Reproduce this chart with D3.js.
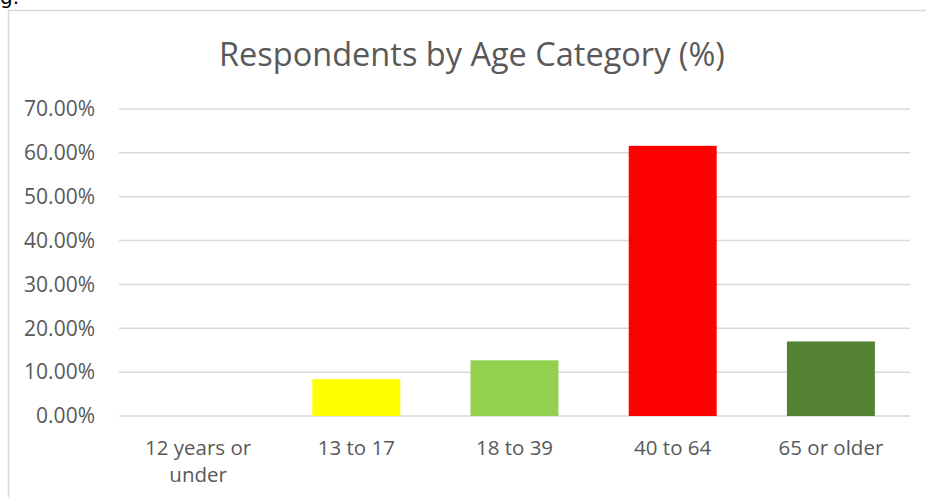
<!DOCTYPE html>
<meta charset="utf-8">
<style>
body { margin: 0; background: #fff; }
text { font-family: "Open Sans", sans-serif; fill: #595959; }
.grid line { stroke: #d9d9d9; stroke-width: 1.5px; }
</style>
<body>
<script src="https://d3js.org/d3.v7.min.js"></script>
<script>

// data
var categories = ["12 years or|under", "13 to 17", "18 to 39", "40 to 64", "65 or older"];
var values = [0, 0.084, 0.127, 0.616, 0.170];
var colors = ["#a5a5a5", "#ffff00", "#92d050", "#ff0000", "#548235"];
var yTicks = [0, 0.1, 0.2, 0.3, 0.4, 0.5, 0.6, 0.7];

var W = 926, H = 497;
var margin = {top: 109, right: 16, bottom: 81, left: 119},
    width = W - margin.left - margin.right,
    height = H - margin.top - margin.bottom;

var svg = d3.select("body").append("svg")
    .attr("width", W)
    .attr("height", H);

// chart frame (cut off at right/bottom)
svg.append("rect")
    .attr("x", 8.5).attr("y", 10.5)
    .attr("width", W + 20).attr("height", H + 20)
    .attr("fill", "none")
    .attr("stroke", "#d9d9d9")
    .attr("stroke-width", 1.5);

// clipped text above the frame
svg.append("text")
    .attr("x", 0).attr("y", 4)
    .style("font-size", "20px")
    .style("font-family", "'DejaVu Sans', sans-serif")
    .style("fill", "#000")
    .text("g.");

// title
svg.append("text")
    .attr("x", 472).attr("y", 66)
    .attr("text-anchor", "middle")
    .style("font-size", "32.5px")
    .text("Respondents by Age Category (%)");

var g = svg.append("g")
    .attr("transform", "translate(" + margin.left + "," + margin.top + ")");

var x = d3.scaleBand().domain(categories).range([0, width]).paddingInner(0.444).paddingOuter(0.222);
var y = d3.scaleLinear().domain([0, 0.7]).range([height, 0]);

// gridlines
g.append("g").attr("class", "grid")
  .selectAll("line")
  .data(yTicks)
  .join("line")
    .attr("x1", 0).attr("x2", width)
    .attr("y1", function(d) { return y(d); })
    .attr("y2", function(d) { return y(d); });

// y labels
var fmt = d3.format(".2%");
g.append("g").selectAll("text")
  .data(yTicks)
  .join("text")
    .attr("x", -24)
    .attr("y", function(d) { return y(d); })
    .attr("dy", "0.35em")
    .attr("text-anchor", "end")
    .style("font-size", "21px")
    .text(function(d) { return fmt(d); });

// bars
g.selectAll(".bar")
  .data(values)
  .join("rect")
    .attr("class", "bar")
    .attr("x", function(d, i) { return x(categories[i]); })
    .attr("width", x.bandwidth())
    .attr("y", function(d) { return y(d); })
    .attr("height", function(d) { return height - y(d); })
    .attr("fill", function(d, i) { return colors[i]; });

// x labels
var xl = g.append("g").selectAll("text")
  .data(categories)
  .join("text")
    .attr("text-anchor", "middle")
    .attr("transform", function(d) { return "translate(" + (x(d) + x.bandwidth() / 2) + "," + (height + 39) + ")"; })
    .style("font-size", "20.5px");
xl.selectAll("tspan")
  .data(function(d) { return d.split("|"); })
  .join("tspan")
    .attr("x", 0)
    .attr("dy", function(d, i) { return i ? 27 : 0; })
    .text(function(d) { return d; });

</script>
</body>
